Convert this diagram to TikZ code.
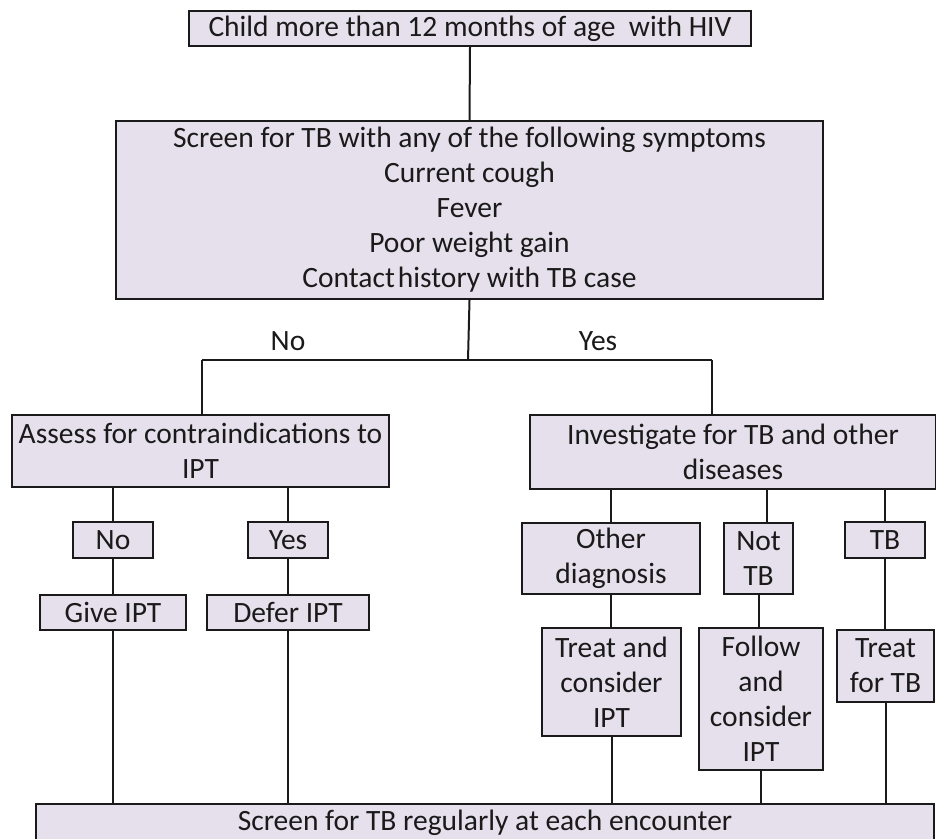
\documentclass[tikz,border=0pt]{standalone}
\usepackage{fontspec}
\setmainfont{Carlito}
\definecolor{boxfill}{HTML}{E5E0EC}
\definecolor{ink}{HTML}{1A1A1A}
\begin{document}
\begin{tikzpicture}[x=1pt,y=-1pt,
  box/.style={draw=ink, fill=boxfill, line width=2, inner sep=0pt, align=center,
    anchor=north west, text=ink, font=\fontsize{29.5}{35}\selectfont},
  lbl/.style={inner sep=0pt, text=ink, font=\fontsize{29.5}{35}\selectfont},
  link/.style={draw=ink, line width=2}]
\clip (0,0) rectangle (936,838);

% boxes
\node[box, minimum width=562, minimum height=35] (top) at (188,10) {Child more than 12 months of age~ with HIV};
\node[box, minimum width=707, minimum height=178] (screen) at (115,120)
  {Screen for TB with any of the following symptoms\\Current cough\\Fever\\Poor weight gain\\Contact\kern3pt history with TB case};
\node[box, minimum width=377, minimum height=72] (assess) at (11,414) {Assess for contraindications to\\IPT};
\node[box, minimum width=406, minimum height=74] (inv) at (529,414) {Investigate for TB and other\\diseases};
\node[box, minimum width=80, minimum height=36] (no) at (72,521) {No};
\node[box, minimum width=80, minimum height=36] (yes) at (247,521) {Yes};
\node[box, minimum width=146, minimum height=35] (give) at (39,594) {Give IPT};
\node[box, minimum width=162, minimum height=35] (defer) at (206,594) {Defer IPT};
\node[box, minimum width=178, minimum height=71] (other) at (521,522) {Other\\diagnosis};
\node[box, minimum width=69, minimum height=71] (nottb) at (723,522) {Not\\TB};
\node[box, minimum width=80, minimum height=36] (tb) at (844,521) {TB};
\node[box, minimum width=139, minimum height=108] (treatc) at (541,627) {Treat and\\consider\\IPT};
\node[box, minimum width=124, minimum height=142] (follow) at (698,627) {Follow\\and\\consider\\IPT};
\node[box, minimum width=97, minimum height=72] (treattb) at (836,629) {Treat\\for TB};
\node[box, minimum width=898, minimum height=38] (bottom) at (35,803) {Screen for TB regularly at each encounter};

% branch labels
\node[lbl] (lno) at (288,341) {No};
\node[lbl] (lyes) at (598,341) {Yes};

% connectors
\coordinate (split) at (468,360);
\coordinate (jl) at (202,360);
\coordinate (jr) at (712,360);
\draw[link] (top.south) -- (screen.north);
\draw[link] (screen.south) -- (split);
\draw[link] (jl) -- (jr);
\draw[link] (jl) -- (jl |- assess.north);
\draw[link] (jr) -- (jr |- inv.north);

\draw[link] (no.north) -- (no.north |- assess.south);
\draw[link] (yes.north) -- (yes.north |- assess.south);
\draw[link] (no.south) -- (no.south |- give.north);
\draw[link] (yes.south) -- (yes.south |- defer.north);
\draw[link] (give.south) -- (give.south |- bottom.north);
\draw[link] (defer.south) -- (defer.south |- bottom.north);

\draw[link] (other.north) -- (other.north |- inv.south);
\draw[link] ([xshift=8]nottb.north) -- ([xshift=8]nottb.north |- inv.south);
\draw[link] (tb.north) -- (tb.north |- inv.south);
\draw[link] (other.south) -- (other.south |- treatc.north);
\draw[link] (nottb.south) -- (nottb.south |- follow.north);
\draw[link] (tb.south) -- (tb.south |- treattb.north);
\draw[link] (treatc.south) -- (treatc.south |- bottom.north);
\draw[link] (follow.south) -- (follow.south |- bottom.north);
\draw[link] (treattb.south) -- (treattb.south |- bottom.north);
\end{tikzpicture}
\end{document}
